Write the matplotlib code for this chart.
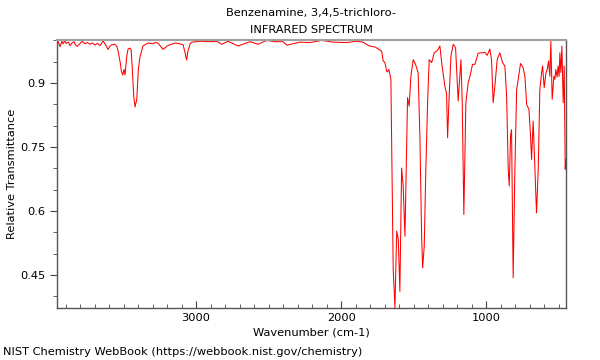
import matplotlib
matplotlib.use("Agg")
import matplotlib.pyplot as plt
from matplotlib.ticker import MultipleLocator

# IR spectrum of 3,4,5-trichloroaniline
wavenumber = [
    3959, 3950, 3938, 3925, 3917, 3905, 3897, 3880, 3869, 3855, 3840, 3834,
    3820, 3800, 3785, 3766, 3750, 3731, 3715, 3697, 3680, 3662, 3650, 3642,
    3625, 3607, 3590, 3579, 3560, 3545, 3538, 3524, 3515, 3506, 3497, 3490,
    3478, 3469, 3455, 3448, 3440, 3430, 3421, 3409, 3398, 3386, 3366, 3332,
    3300, 3283, 3263, 3228, 3194, 3145, 3110, 3090, 3076, 3065, 3056, 3040,
    3028, 2973, 2904, 2856, 2824, 2780, 2711, 2628, 2573, 2513, 2456, 2401,
    2374, 2284, 2215, 2134, 2056, 1962, 1893, 1848, 1813, 1779, 1767, 1744,
    1721, 1710, 1698, 1686, 1682, 1671, 1657, 1641, 1629, 1617, 1606, 1595,
    1583, 1572, 1560, 1549, 1542, 1531, 1519, 1503, 1487, 1469, 1457, 1445,
    1438, 1427, 1416, 1404, 1393, 1376, 1358, 1335, 1319, 1307, 1285, 1273,
    1266, 1257, 1243, 1227, 1211, 1193, 1174, 1165, 1154, 1140, 1124, 1112,
    1094, 1078, 1055, 1032, 1009, 993, 975, 963, 952, 940, 924, 906,
    887, 871, 859, 848, 841, 832, 825, 814, 802, 790, 779, 763,
    745, 733, 721, 705, 694, 687, 676, 664, 653, 641, 630, 618,
    611, 600, 588, 579, 570, 561, 554, 545, 533, 526, 520, 511,
    504, 497, 492, 485, 478, 469, 462, 455, 451,
]
transmittance = [
    0.990, 0.997, 0.985, 0.998, 0.992, 1.000, 0.993, 0.996, 0.988, 0.994, 0.997, 0.990,
    0.986, 0.993, 0.998, 0.992, 0.995, 0.991, 0.994, 0.989, 0.993, 0.988, 0.994, 0.999,
    0.990, 0.979, 0.988, 0.990, 0.991, 0.985, 0.975, 0.950, 0.928, 0.919, 0.932, 0.919,
    0.963, 0.980, 0.982, 0.978, 0.935, 0.870, 0.844, 0.862, 0.933, 0.963, 0.987, 0.994,
    0.992, 0.995, 0.994, 0.979, 0.988, 0.994, 0.992, 0.990, 0.971, 0.954, 0.976, 0.993,
    0.996, 0.998, 0.997, 0.998, 0.991, 0.998, 0.987, 0.997, 0.991, 1.000, 0.997, 0.997,
    0.989, 0.996, 0.995, 1.000, 0.996, 0.995, 0.998, 0.996, 0.988, 0.985, 0.985, 0.980,
    0.975, 0.952, 0.948, 0.928, 0.926, 0.932, 0.909, 0.464, 0.373, 0.553, 0.535, 0.412,
    0.701, 0.658, 0.541, 0.737, 0.866, 0.846, 0.916, 0.955, 0.944, 0.924, 0.776, 0.541,
    0.467, 0.518, 0.698, 0.854, 0.955, 0.948, 0.971, 0.977, 0.987, 0.948, 0.893, 0.875,
    0.772, 0.854, 0.963, 0.991, 0.983, 0.858, 0.955, 0.854, 0.592, 0.854, 0.901, 0.916,
    0.944, 0.944, 0.970, 0.971, 0.972, 0.965, 0.980, 0.955, 0.854, 0.893, 0.955, 0.971,
    0.948, 0.940, 0.870, 0.698, 0.659, 0.776, 0.791, 0.444, 0.698, 0.885, 0.909, 0.946,
    0.936, 0.916, 0.850, 0.838, 0.776, 0.721, 0.811, 0.698, 0.596, 0.698, 0.885, 0.924,
    0.940, 0.889, 0.924, 0.932, 0.952, 0.916, 0.998, 0.862, 0.916, 0.909, 0.932, 0.914,
    0.940, 0.916, 0.971, 0.925, 0.987, 0.854, 0.940, 0.698, 0.720,
]

FS = 8.2

fig = plt.figure(figsize=(6, 3.6), dpi=100)
ax = fig.add_axes([0.095, 0.1444, 0.848, 0.7445])
ax.plot(wavenumber, transmittance, color="red", lw=0.75)

ax.set_xlim(3959, 451)
ax.set_ylim(0.373, 1.001)
ax.xaxis.set_major_locator(MultipleLocator(1000))
ax.xaxis.set_minor_locator(MultipleLocator(100))
ax.yaxis.set_minor_locator(MultipleLocator(0.05))
ax.set_yticks([0.45, 0.6, 0.75, 0.9])
ax.set_yticklabels(["0.45", "0.6", "0.75", "0.9"])
ax.tick_params(axis="x", which="major", direction="in", length=5, labelsize=FS,
               color="#444")
ax.tick_params(axis="x", which="minor", direction="in", length=3, color="#444")
ax.tick_params(axis="y", which="major", direction="out", length=5, labelsize=FS,
               color="#444")
ax.tick_params(axis="y", which="minor", direction="out", length=3, color="#444")

for side in ("left", "bottom", "right"):
    ax.spines[side].set_color("#555")
    ax.spines[side].set_linewidth(1.0)
ax.spines["top"].set_color("#a0a0a0")
ax.spines["top"].set_linewidth(1.5)

ax.set_xlabel("Wavenumber (cm-1)", fontsize=FS, labelpad=3)
ax.set_ylabel("Relative Transmittance", fontsize=FS, labelpad=2)
fig.text(0.519, 0.965, "Benzenamine, 3,4,5-trichloro-", ha="center", va="center",
         fontsize=FS)
fig.text(0.519, 0.918, "INFRARED SPECTRUM", ha="center", va="center", fontsize=FS)
fig.text(0.005, 0.022, "NIST Chemistry WebBook (https://webbook.nist.gov/chemistry)",
         ha="left", va="center", fontsize=FS)

fig.savefig("out.png", dpi=100)
